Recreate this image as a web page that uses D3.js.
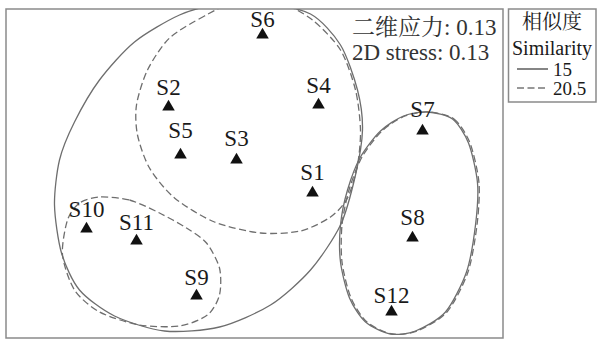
<!DOCTYPE html>
<html>
<head>
<meta charset="utf-8">
<script src="https://cdn.jsdelivr.net/npm/d3@7"></script>
<style>
	body { margin: 0; background: #fff; }
	svg { display: block; }
</style>
</head>
<body>
<svg id="svgMds" width="597" height="340"></svg>
<script>

// sample names and MDS coordinates (dimension 1, dimension 2)
var sites = ["S1", "S2", "S3", "S4", "S5", "S6", "S7", "S8", "S9", "S10", "S11", "S12"];
var dim1 = [0.58, -0.86, -0.18, 0.64, -0.74, 0.08, 1.68, 1.58, -0.58, -1.68, -1.18, 1.37];
var dim2 = [-0.20, 0.66, 0.13, 0.68, 0.18, 1.38, 0.42, -0.65, -1.23, -0.56, -0.68, -1.39];
// distanza verticale etichetta - triangolo
var labelGap = [13, 12, 14, 12, 17, 8, 14, 13, 11, 12, 11, 9];

var stress = 0.13;
var simLevels = ["15", "20.5"];

// contorni dei cluster (similarity 15 = solid, 20.5 = dashed)
var hull15Big = [[0.06,1.71],[0.56,1.59],[0.86,1.28],[1.03,0.83],[1.08,0.43],[1.01,-0.02],[0.86,-0.52],[0.56,-0.97],[0.16,-1.32],[-0.35,-1.54],[-0.90,-1.58],[-1.40,-1.43],[-1.75,-1.17],[-1.93,-0.80],[-2.00,-0.32],[-1.95,0.13],[-1.80,0.51],[-1.55,0.93],[-1.20,1.31],[-0.75,1.58],[-0.35,1.69]];
var hull20Big = [[-0.15,1.73],[-0.50,1.57],[-0.85,1.35],[-1.07,1.03],[-1.18,0.68],[-1.17,0.38],[-1.05,0.05],[-0.80,-0.25],[-0.40,-0.49],[0.06,-0.60],[0.46,-0.58],[0.76,-0.44],[0.93,-0.25],[1.03,0.08],[1.06,0.43],[1.01,0.83],[0.86,1.23],[0.58,1.53],[0.26,1.70]];
var hull20Small = [[-1.55,-0.24],[-1.25,-0.27],[-0.95,-0.40],[-0.68,-0.55],[-0.48,-0.70],[-0.35,-0.95],[-0.35,-1.22],[-0.47,-1.42],[-0.75,-1.53],[-1.15,-1.52],[-1.55,-1.39],[-1.80,-1.17],[-1.92,-0.82],[-1.87,-0.47],[-1.75,-0.30]];
var hullRight = [[1.73,0.61],[1.98,0.54],[2.14,0.30],[2.23,-0.10],[2.21,-0.52],[2.12,-0.99],[1.91,-1.39],[1.61,-1.58],[1.36,-1.61],[1.11,-1.49],[0.95,-1.25],[0.86,-0.89],[0.86,-0.52],[0.93,-0.17],[1.06,0.16],[1.26,0.42],[1.49,0.57]];

var serif = "'Liberation Serif', 'Noto Serif CJK SC'";

var svg = d3.select("#svgMds");
var frame = {left: 6, right: 503, top: 9, bottom: 338};

var x = d3.scaleLinear().domain([-2.485, 2.485]).range([frame.left, frame.right]);
var y = d3.scaleLinear().domain([-1.65, 1.64]).range([frame.bottom, frame.top]);

var points = sites.map(function(s, i) {
	return {name: s, x: dim1[i], y: dim2[i], gap: labelGap[i]};
});

// clip per i contorni che escono dal riquadro
svg.append("defs").append("clipPath").attr("id", "plotClip")
	.append("rect")
	.attr("x", frame.left).attr("y", frame.top)
	.attr("width", frame.right - frame.left).attr("height", frame.bottom - frame.top);

// riquadro del grafico
svg.append("rect")
	.attr("x", frame.left).attr("y", frame.top)
	.attr("width", frame.right - frame.left).attr("height", frame.bottom - frame.top)
	.attr("fill", "none").attr("stroke", "#8a8a8a").attr("stroke-width", 1.5);

var hullLine = d3.line()
	.x(function(d) { return x(d[0]); })
	.y(function(d) { return y(d[1]); })
	.curve(d3.curveCardinalClosed.tension(0.2));

var hulls = [
	{pts: hull15Big, dash: null, shift: 0},
	{pts: hull20Big, dash: "7,3.5", shift: 0},
	{pts: hull20Small, dash: "7,3.5", shift: 0},
	{pts: hullRight, dash: null, shift: 0},
	{pts: hullRight, dash: "7,3.5", shift: 1.5}
];

svg.append("g").attr("clip-path", "url(#plotClip)")
	.selectAll(".hull").data(hulls).enter().append("path")
	.attr("class", "hull")
	.attr("d", function(d) { return hullLine(d.pts); })
	.attr("transform", function(d) { return "translate(" + d.shift + ",0)"; })
	.attr("fill", "none")
	.attr("stroke", "#6e6e6e")
	.attr("stroke-width", 1.3)
	.attr("stroke-dasharray", function(d) { return d.dash; });

// punti: triangolo + etichetta
var node = svg.selectAll(".site").data(points).enter().append("g")
	.attr("class", "site")
	.attr("transform", function(d) { return "translate(" + x(d.x) + "," + y(d.y) + ")"; });

node.append("path")
	.attr("d", d3.symbol().type(d3.symbolTriangle).size(68))
	.attr("fill", "#111");

node.append("text")
	.attr("text-anchor", "middle")
	.attr("y", function(d) { return -d.gap; })
	.style("font-family", serif)
	.style("font-size", "23px")
	.style("fill", "#1a1a1a")
	.text(function(d) { return d.name; });

// stress
svg.append("text").attr("x", 352).attr("y", 35)
	.style("font-family", serif).style("font-size", "23px").style("fill", "#333")
	.text("二维应力: " + stress.toFixed(2));
svg.append("text").attr("x", 352).attr("y", 60)
	.style("font-family", serif).style("font-size", "23px").style("fill", "#333")
	.text("2D stress: " + stress.toFixed(2));

// legenda
var leg = svg.append("g");
leg.append("rect").attr("x", 508.5).attr("y", 9).attr("width", 87.5).attr("height", 93)
	.attr("fill", "none").attr("stroke", "#8a8a8a").attr("stroke-width", 1.5);
leg.append("text").attr("x", 552).attr("y", 29).attr("text-anchor", "middle")
	.style("font-family", serif).style("font-size", "20px").style("fill", "#1a1a1a")
	.text("相似度");
leg.append("text").attr("x", 552).attr("y", 55).attr("text-anchor", "middle")
	.style("font-family", serif).style("font-size", "20px").style("fill", "#1a1a1a")
	.text("Similarity");

var legItems = leg.selectAll(".legItem").data(simLevels).enter().append("g")
	.attr("class", "legItem")
	.attr("transform", function(d, i) { return "translate(0," + (i * 19) + ")"; });
legItems.append("line")
	.attr("x1", 517).attr("x2", 548).attr("y1", 69).attr("y2", 69)
	.attr("stroke", "#333").attr("stroke-width", 1.2)
	.attr("stroke-dasharray", function(d, i) { return i == 1 ? "7,3.5" : null; });
legItems.append("text").attr("x", 553).attr("y", 76)
	.style("font-family", serif).style("font-size", "19px").style("fill", "#1a1a1a")
	.text(function(d) { return d; });

</script>
</body>
</html>
